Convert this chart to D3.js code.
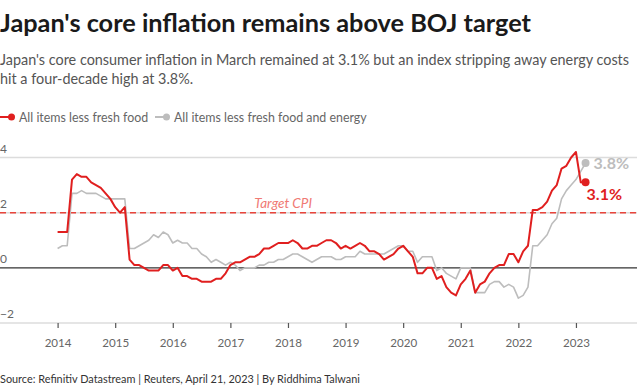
<!DOCTYPE html>
<html>
<head>
<meta charset="utf-8">
<script src="https://cdn.jsdelivr.net/npm/d3@7"></script>
<style>
  body { margin: 0; background: #fff; }
  svg { font-family: Lato, "Open Sans", sans-serif; }
</style>
</head>
<body>
<svg id="chart" width="640" height="388"></svg>
<script>
// Séries mensais, jan/2014 a mar/2023
const startYear = 2014;
const coreCPI = [
  1.3, 1.3, 1.3, 3.2, 3.4, 3.3, 3.3, 3.1, 3.0, 2.9, 2.7, 2.5,
  2.2, 2.0, 2.2, 0.3, 0.1, 0.1, 0.0, -0.1, -0.1, -0.1, 0.1, 0.1,
  -0.1, 0.0, -0.3, -0.3, -0.4, -0.4, -0.5, -0.5, -0.5, -0.4, -0.4, -0.2,
  0.1, 0.2, 0.2, 0.3, 0.4, 0.4, 0.5, 0.7, 0.7, 0.8, 0.9, 0.9,
  0.9, 1.0, 0.9, 0.7, 0.7, 0.8, 0.8, 0.9, 1.0, 1.0, 0.9, 0.7,
  0.8, 0.7, 0.8, 0.9, 0.8, 0.6, 0.6, 0.5, 0.3, 0.4, 0.5, 0.7,
  0.8, 0.6, 0.4, -0.2, -0.2, 0.0, 0.0, -0.4, -0.3, -0.7, -0.9, -1.0,
  -0.6, -0.4, -0.1, -0.9, -0.6, -0.5, -0.2, 0.0, 0.1, 0.1, 0.5, 0.5,
  0.2, 0.6, 0.8, 2.1, 2.1, 2.2, 2.4, 2.8, 3.0, 3.6, 3.7, 4.0,
  4.2, 3.1, 3.1
];
const coreCoreCPI = [
  0.7, 0.8, 0.8, 2.7, 2.7, 2.8, 2.7, 2.7, 2.7, 2.6, 2.5, 2.5,
  2.5, 2.5, 2.5, 0.7, 0.7, 0.8, 0.9, 1.0, 1.2, 1.1, 1.3, 1.2,
  0.9, 1.0, 0.9, 0.9, 0.7, 0.7, 0.5, 0.4, 0.2, 0.3, 0.2, 0.1,
  0.2, 0.1, -0.1, 0.0, 0.0, 0.0, 0.1, 0.1, 0.2, 0.2, 0.3, 0.3,
  0.4, 0.5, 0.5, 0.4, 0.3, 0.2, 0.3, 0.4, 0.4, 0.4, 0.3, 0.3,
  0.4, 0.4, 0.4, 0.6, 0.5, 0.5, 0.5, 0.5, 0.5, 0.6, 0.7, 0.8,
  0.8, 0.6, 0.6, 0.2, 0.4, 0.4, 0.4, -0.1, 0.0, -0.2, -0.3, -0.4,
  0.0, 0.0, 0.0, -0.9, -0.9, -0.9, -0.6, -0.5, -0.5, -0.7, -0.6, -0.7,
  -1.1, -1.0, -0.7, 0.8, 0.8, 1.0, 1.2, 1.6, 1.8, 2.5, 2.8, 3.0,
  3.2, 3.5, 3.8
];
const yearTicks = [2014, 2015, 2016, 2017, 2018, 2019, 2020, 2021, 2022, 2023];
const valueTicks = [-2, 0, 2, 4];
const targetCPI = 2;
const seriesNames = ['All items less fresh food', 'All items less fresh food and energy'];

const red = '#e01f1f';
const gray = '#bdbdbd';

const svg = d3.select('#chart');

// Escalas
const x = d3.scaleLinear().domain([2013, 2024.06]).range([0, 637]);
const y = d3.scaleLinear().domain([-2, 4]).range([323, 157.5]);

const monthX = (i) => x(startYear + i / 12);

// Título e subtítulo
svg.append('text')
  .attr('x', 0).attr('y', 31.5)
  .attr('font-size', 25.3).attr('font-weight', 700).attr('fill', '#1a1a1a')
  .text("Japan's core inflation remains above BOJ target");

const sub = svg.append('text')
  .attr('font-size', 14.4).attr('fill', '#555');
sub.append('tspan').attr('x', 0).attr('y', 65)
  .text("Japan's core consumer inflation in March remained at 3.1% but an index stripping away energy costs");
sub.append('tspan').attr('x', 0).attr('y', 84)
  .text('hit a four-decade high at 3.8%.');

// Legenda
const legend = svg.append('g').attr('transform', 'translate(0,117)');
legend.append('line').attr('x1', 0).attr('x2', 11).attr('stroke', red).attr('stroke-width', 2);
legend.append('circle').attr('cx', 11.5).attr('r', 3.5).attr('fill', red);
legend.append('text').attr('x', 19).attr('y', 4.5)
  .attr('font-size', 12.4).attr('fill', '#666').text(seriesNames[0]);
legend.append('line').attr('x1', 155).attr('x2', 166).attr('stroke', gray).attr('stroke-width', 2);
legend.append('circle').attr('cx', 166.5).attr('r', 3.5).attr('fill', gray);
legend.append('text').attr('x', 174).attr('y', 4.5)
  .attr('font-size', 12.4).attr('fill', '#666').text(seriesNames[1]);

// Grade horizontal
svg.append('g')
  .selectAll('line')
  .data(valueTicks.filter(v => v !== 0))
  .enter()
  .append('line')
  .attr('x1', 0).attr('x2', 637)
  .attr('y1', d => y(d)).attr('y2', d => y(d))
  .attr('stroke', '#dcdcdc').attr('stroke-width', 1.5);

// Rótulos do eixo y
svg.append('g')
  .selectAll('text')
  .data(valueTicks)
  .enter()
  .append('text')
  .attr('x', 0).attr('y', d => y(d) - 5)
  .attr('font-size', 12).attr('fill', '#666')
  .text(d => d < 0 ? '\u2212' + Math.abs(d) : d);

// Eixo x
const xAxis = svg.append('g')
  .attr('transform', `translate(0,${y(-2)})`)
  .call(d3.axisBottom(x).tickValues(yearTicks).tickFormat(d3.format('d')).tickSize(5).tickPadding(11));
xAxis.select('.domain').remove();
xAxis.selectAll('.tick line').attr('stroke', '#555').attr('stroke-width', 1.2);
xAxis.selectAll('.tick text').attr('font-size', 11.6).attr('fill', '#666')
  .attr('font-family', 'Lato, sans-serif');

// Linha de zero
svg.append('line')
  .attr('x1', 0).attr('x2', 637)
  .attr('y1', y(0)).attr('y2', y(0))
  .attr('stroke', '#333').attr('stroke-width', 1.2);

// Meta de inflação
svg.append('line')
  .attr('x1', 0).attr('x2', 637)
  .attr('y1', y(targetCPI)).attr('y2', y(targetCPI))
  .attr('stroke', '#e8453c').attr('stroke-width', 1.5)
  .attr('stroke-dasharray', '6,4');
svg.append('text')
  .attr('x', 312).attr('y', y(targetCPI) - 5)
  .attr('text-anchor', 'end')
  .attr('font-size', 13.5).attr('font-style', 'italic').attr('fill', '#f07a74')
  .text('Target CPI');

// Linhas
const line = d3.line()
  .x((d, i) => monthX(i))
  .y(d => y(d));

svg.append('path')
  .datum(coreCoreCPI)
  .attr('d', line)
  .attr('fill', 'none').attr('stroke', gray).attr('stroke-width', 1.6)
  .attr('stroke-linejoin', 'round');

svg.append('path')
  .datum(coreCPI)
  .attr('d', line)
  .attr('fill', 'none').attr('stroke', red).attr('stroke-width', 2)
  .attr('stroke-linejoin', 'round');

// Pontos finais e rótulos
const last = coreCPI.length - 1;
svg.append('circle')
  .attr('cx', monthX(last)).attr('cy', y(coreCoreCPI[last])).attr('r', 4).attr('fill', gray);
svg.append('circle')
  .attr('cx', monthX(last)).attr('cy', y(coreCPI[last])).attr('r', 4).attr('fill', red);

svg.append('text')
  .attr('x', monthX(last) + 8).attr('y', y(coreCoreCPI[last]) + 6)
  .attr('font-size', 16).attr('font-weight', 700).attr('fill', gray)
  .text(coreCoreCPI[last].toFixed(1) + '%');
svg.append('text')
  .attr('x', monthX(last) + 1).attr('y', y(coreCPI[last]) + 18)
  .attr('font-size', 16).attr('font-weight', 700).attr('fill', red)
  .text(coreCPI[last].toFixed(1) + '%');

// Fonte
svg.append('text')
  .attr('x', 0).attr('y', 382.5)
  .attr('font-size', 10.9).attr('fill', '#333')
  .text('Source: Refinitiv Datastream | Reuters, April 21, 2023 | By Riddhima Talwani');
</script>
</body>
</html>
